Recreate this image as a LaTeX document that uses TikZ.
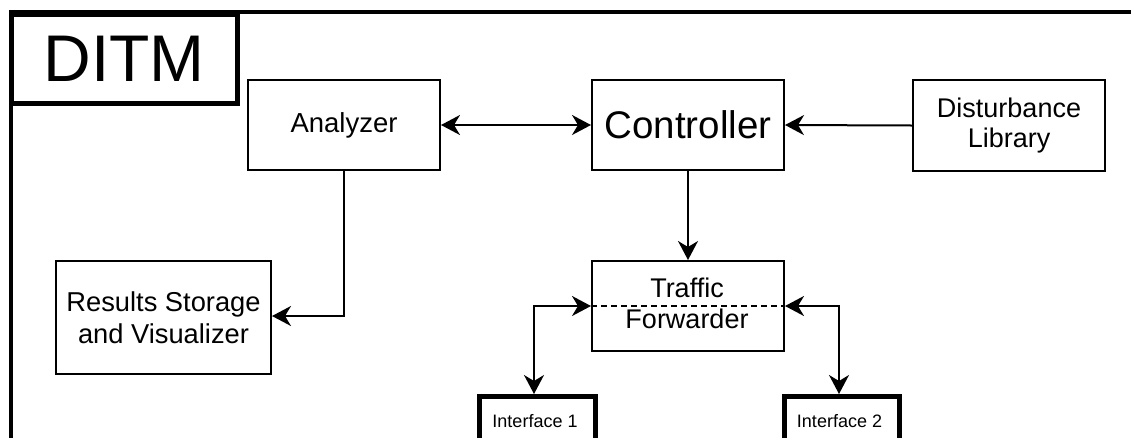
\documentclass[tikz,border=0pt]{standalone}
\usepackage{fontspec}
\setmainfont{Liberation Sans}
\usetikzlibrary{arrows.meta}
\begin{document}
\begin{tikzpicture}[x=1pt,y=-1pt,
  >={Stealth[length=19pt,width=20pt,inset=6pt]},
  blk/.style={draw=black,line width=2pt,fill=white,minimum width=#1,inner sep=0pt,align=center},
  blk/.default=190pt,
  iface/.style={draw=black,line width=4.5pt,fill=white,inner sep=0pt},
  conn/.style={line width=2pt},
  oneway/.style={conn,->},
  twoway/.style={conn,<->}]
\useasboundingbox (0,0) rectangle (1131,437);
\clip (0,0) rectangle (1131,437);
\fill[white] (0,0) rectangle (1131,437);
% outer frame, cut by the page edges
\draw[line width=4.5pt] (11,12) rectangle (1150,460);
% title tab
\node[draw,line width=4.5pt,fill=white,minimum width=226pt,minimum height=89pt,inner sep=0pt,anchor=north west,font=\fontsize{66}{66}\selectfont] (ditm) at (9,12) {DITM};
% blocks
\node[blk=192pt,minimum height=90pt,anchor=north west,font=\fontsize{27.5}{30}\selectfont] (ana) at (247,79) {Analyzer};
\node[blk=192pt,minimum height=90pt,anchor=north west,font=\fontsize{38.5}{40}\selectfont] (ctl) at (591,79) {Controller};
\node[blk=192pt,minimum height=91pt,anchor=north west,font=\fontsize{27}{30}\selectfont] (dis) at (912,79) {Disturbance\\Library};
\node[blk=215pt,minimum height=113pt,anchor=north west,font=\fontsize{27.3}{32}\selectfont] (res) at (55,260) {Results Storage\\and Visualizer};
\node[blk=192pt,minimum height=90pt,anchor=north west] (tf) at (591,260) {};
\draw[dashed,line width=2pt,dash pattern=on 6pt off 4pt] (tf.west) -- (tf.east);
\node[font=\fontsize{27}{27}\selectfont,anchor=base] (tft) at (687,297) {Traffic};
\node[font=\fontsize{27}{27}\selectfont,anchor=base] (tfb) at (687,328) {Forwarder};
% interfaces, cut by the bottom edge
\node[iface,minimum width=116pt,minimum height=70pt,anchor=north west] (if1) at (477,394) {};
\node[iface,minimum width=115pt,minimum height=70pt,anchor=north west] (if2) at (782,394) {};
\node[font=\fontsize{18}{18}\selectfont,anchor=base] (if1t) at (535,427) {Interface 1};
\node[font=\fontsize{18}{18}\selectfont,anchor=base] (if2t) at (839.5,427) {Interface 2};
% connectors
\draw[twoway] (ana.east) -- (ctl.west);
\draw[oneway] (dis.west) -- (ctl.east);
\draw[oneway] (ctl.south) -- (tf.north);
\draw[oneway] (ana.south) |- (res.east |- 0,316);
\draw[twoway] (tf.west) -| (534,394);
\draw[twoway] (tf.east) -| (839,394);
\end{tikzpicture}
\end{document}
